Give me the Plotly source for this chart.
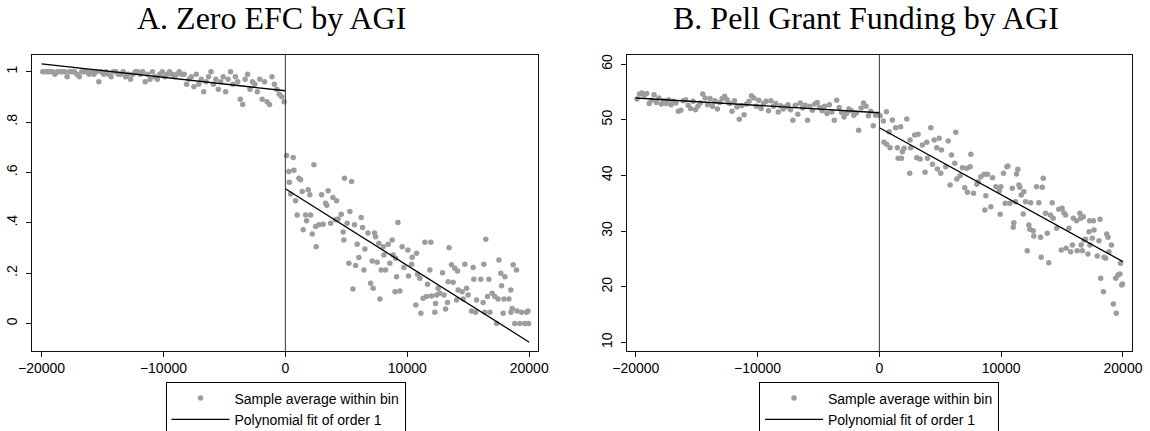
import plotly.graph_objects as go

# ---------------- data ----------------
cutoff = 0

# Panel A: Zero EFC by AGI
a_left_x = [-19900, -19700, -19500, -19300, -19100, -18900, -18700, -18500, -18300, -18100,
            -17900, -17700, -17500, -17300, -17100, -16900, -16700, -16500, -16300, -16100,
            -15900, -15700, -15500, -15300, -15100, -14900, -14700, -14500, -14300, -14100,
            -13900, -13700, -13500, -13300, -13100, -12900, -12700, -12500, -12300, -12100,
            -11900, -11700, -11500, -11300, -11100, -10900, -10700, -10500, -10300, -10100,
            -9900, -9700, -9500, -9300, -9100, -8900, -8700, -8500, -8300, -8100,
            -7900, -7700, -7500, -7300, -7100, -6900, -6700, -6500, -6300, -6100,
            -5900, -5700, -5500, -5300, -5100, -4900, -4700, -4500, -4300, -4100,
            -3900, -3700, -3500, -3300, -3100, -2900, -2700, -2500, -2300, -2100,
            -1900, -1700, -1500, -1300, -1100, -900, -700, -500, -300, -100]
a_left_y = [1.00, 1.00, 1.00, 1.00, 1.00, 0.99, 1.00, 1.00, 1.00, 1.00,
            0.98, 1.00, 1.00, 1.00, 0.99, 0.98, 1.00, 1.00, 1.00, 0.99,
            1.00, 0.99, 1.00, 0.96, 1.00, 0.99, 1.00, 0.99, 0.98, 1.00,
            1.00, 0.99, 0.99, 1.00, 0.98, 0.99, 0.97, 0.99, 1.00, 1.00,
            0.99, 1.00, 0.96, 0.99, 0.97, 1.00, 0.98, 0.97, 0.99, 1.00,
            0.98, 0.99, 1.00, 0.99, 0.98, 0.99, 1.00, 0.99, 0.99, 0.95,
            0.97, 0.98, 0.94, 0.99, 0.95, 0.97, 0.92, 0.96, 0.98, 1.00,
            0.95, 0.97, 0.93, 0.96, 0.98, 0.92, 0.97, 1.00, 0.95, 0.98,
            0.96, 0.89, 0.87, 0.97, 0.99, 0.93, 0.96, 0.95, 0.92, 0.97,
            0.89, 0.96, 0.88, 0.87, 0.98, 0.95, 0.93, 0.91, 0.90, 0.88]

a_right_x = [100, 290, 320, 430, 640, 700, 840, 970, 1110, 1250,
             1380, 1460, 1660, 1740, 1870, 2010, 2070, 2200, 2340, 2480,
             2530, 2750, 2970, 3100, 3300, 3400, 3510, 3710, 3900, 4120,
             4200, 4330, 4580, 4740, 4800, 4850, 5070, 5210, 5290, 5430,
             5540, 5670, 5760, 5890, 6030, 6220, 6330, 6440, 6520, 6770,
             6990, 7120, 7200, 7310, 7400, 7530, 7670, 7750, 7860, 8020,
             8080, 8220, 8430, 8570, 8760, 8840, 9000, 9040, 9120, 9230,
             9390, 9580, 9720, 10050, 10100, 10350, 10400, 10700, 10760, 10840,
             11030, 11110, 11300, 11440, 11580, 11660, 11850, 11930, 11990, 12260,
             12320, 12400, 12530, 12670, 12890, 13020, 13140, 13300, 13350, 13430,
             13630, 13760, 13900, 14040, 14120, 14170, 14500, 14580, 14720, 14860,
             14990, 15270, 15400, 15460, 15600, 15680, 16030, 16220, 16280, 16360,
             16440, 16580, 16690, 16770, 16960, 17180, 17320, 17450, 17510, 17670,
             17730, 17860, 17940, 18000, 18330, 18490, 18500, 18600, 18680, 18820,
             18960, 19000, 19230, 19370, 19640, 19780, 19900, 19950]
a_right_y = [0.667, 0.604, 0.561, 0.514, 0.659, 0.609, 0.487, 0.431, 0.577, 0.571,
             0.524, 0.372, 0.431, 0.408, 0.531, 0.511, 0.431, 0.355, 0.630, 0.385,
             0.305, 0.392, 0.511, 0.394, 0.478, 0.470, 0.527, 0.398, 0.500, 0.412,
             0.487, 0.415, 0.434, 0.363, 0.332, 0.577, 0.398, 0.239, 0.445, 0.564,
             0.137, 0.392, 0.230, 0.315, 0.262, 0.421, 0.381, 0.213, 0.296, 0.359,
             0.160, 0.248, 0.140, 0.359, 0.345, 0.243, 0.319, 0.097, 0.213, 0.305,
             0.272, 0.213, 0.315, 0.239, 0.332, 0.272, 0.126, 0.259, 0.186, 0.401,
             0.129, 0.305, 0.222, 0.292, 0.189, 0.235, 0.263, 0.074, 0.279, 0.196,
             0.180, 0.041, 0.100, 0.323, 0.107, 0.156, 0.213, 0.323, 0.109, 0.045,
             0.080, 0.113, 0.140, 0.120, 0.202, 0.113, 0.058, 0.084, 0.166, 0.301,
             0.233, 0.164, 0.219, 0.093, 0.209, 0.133, 0.126, 0.097, 0.235, 0.140,
             0.113, 0.050, 0.222, 0.176, 0.045, 0.093, 0.176, 0.084, 0.235, 0.045,
             0.335, 0.107, 0.176, 0.045, 0.120, 0.107, 0.000, 0.097, 0.252, 0.200,
             0.150, 0.041, 0.097, 0.186, 0.097, 0.133, 0.045, 0.060, 0.233, 0.000,
             0.213, 0.050, 0.000, 0.045, 0.000, 0.045, 0.050, 0.000]

a_fit_left_x = [-20000, 0]
a_fit_left_y = [1.031, 0.924]
a_fit_right_x = [0, 20000]
a_fit_right_y = [0.535, -0.074]

# Panel B: Pell Grant Funding by AGI
b_left_x = a_left_x
b_left_y = [53.7, 54.6, 54.8, 54.4, 54.7, 52.9, 53.5, 54.5, 53.1, 53.9,
            52.8, 53.4, 52.9, 53.6, 52.7, 53.3, 53.0, 51.5, 51.7, 53.4,
            53.6, 52.6, 52.0, 53.3, 51.8, 52.4, 53.0, 54.6, 53.9, 52.7,
            53.8, 52.4, 53.4, 51.9, 53.1, 53.8, 54.2, 53.6, 52.9, 51.5,
            53.4, 52.3, 50.1, 52.5, 50.9, 52.8, 53.3, 54.3, 53.9, 52.4,
            53.5, 52.0, 52.9, 53.3, 51.6, 53.4, 52.4, 52.9, 51.4, 52.5,
            51.9, 52.3, 52.7, 51.8, 49.9, 52.6, 51.0, 53.0, 52.1, 52.6,
            49.9, 52.4, 51.7, 52.8, 53.1, 52.2, 51.6, 52.4, 51.1, 52.7,
            51.4, 49.9, 53.5, 52.2, 51.3, 50.5, 51.1, 51.9, 51.6, 50.8,
            51.2, 48.1, 52.1, 53.0, 52.4, 50.7, 51.5, 48.9, 50.8, 51.0]

b_right_x = [55, 330, 380, 575, 600, 800, 880, 1070, 1340, 1480,
             1540, 1750, 1810, 1890, 2030, 2250, 2490, 2520, 2570, 2900,
             3070, 3180, 3350, 3530, 3750, 3890, 3950, 4220, 4360, 4500,
             4710, 4760, 4910, 5040, 5100, 5450, 5650, 5810, 5920, 6190,
             6270, 6360, 6630, 6820, 7010, 7180, 7230, 7450, 7510, 7730,
             8000, 8110, 8330, 8600, 8660, 8740, 8880, 9150, 9290, 9560,
             9840, 9920, 9970, 10190, 10330, 10470, 10550, 10710, 10910, 10990,
             11040, 11180, 11260, 11370, 11450, 11530, 11640, 11810, 11860, 12000,
             12140, 12270, 12350, 12410, 12630, 12680, 12900, 13090, 13230, 13280,
             13370, 13450, 13640, 13780, 13910, 14050, 14190, 14270, 14550, 14730,
             14930, 15000, 15150, 15290, 15330, 15560, 15700, 15850, 15920, 16190,
             16240, 16460, 16520, 16560, 16660, 16740, 16800, 16930, 17120, 17210,
             17260, 17290, 17480, 17570, 17620, 17890, 18030, 18110, 18170, 18390,
             18440, 18580, 18660, 18770, 18850, 19050, 19210, 19400, 19450, 19590,
             19750, 19800, 19900, 19950]
b_right_y = [50.72, 49.76, 45.94, 51.43, 45.58, 47.84, 44.97, 49.94, 48.56, 44.97,
             43.06, 48.74, 43.06, 44.25, 44.86, 50.12, 40.37, 46.35, 44.97, 47.25,
             43.17, 47.37, 42.94, 45.45, 40.55, 45.94, 43.06, 48.56, 41.99, 46.35,
             44.97, 41.14, 46.66, 40.37, 44.55, 41.56, 46.17, 38.27, 43.66, 42.17,
             47.73, 39.35, 39.94, 41.38, 37.78, 41.27, 36.96, 41.56, 43.78, 36.78,
             38.39, 38.86, 39.76, 40.19, 33.78, 36.35, 40.19, 34.38, 39.58, 37.96,
             37.19, 33.00, 37.96, 40.37, 34.98, 41.56, 41.68, 34.98, 37.68, 30.67,
             31.50, 35.27, 40.24, 41.08, 38.27, 37.86, 36.47, 33.06, 37.07, 35.27,
             26.47, 31.09, 30.31, 35.09, 30.06, 29.11, 37.96, 35.09, 28.88, 25.28,
             37.86, 39.47, 33.18, 29.60, 24.32, 32.88, 35.09, 32.29, 30.49, 33.90,
             26.59, 34.08, 33.30, 32.88, 26.90, 30.49, 26.29, 27.50, 32.29, 31.86,
             26.47, 33.18, 32.29, 27.50, 26.47, 32.59, 28.40, 28.52, 25.88, 29.88,
             31.86, 27.50, 28.70, 31.86, 30.19, 25.52, 28.27, 32.10, 21.51, 19.10,
             25.28, 25.10, 29.47, 28.88, 26.29, 27.50, 16.90, 21.51, 15.23, 22.10,
             22.28, 24.20, 20.31, 20.49]

b_fit_left_x = [-20000, 0]
b_fit_left_y = [53.9, 51.25]
b_fit_right_x = [0, 20000]
b_fit_right_y = [48.56, 24.5]

titles = ["A. Zero EFC by AGI", "B. Pell Grant Funding by AGI"]
legend_names = ["Sample average within bin", "Polynomial fit of order 1"]
x_tickvals = [-20000, -10000, 0, 10000, 20000]
x_ticktext = ["\u221220000", "\u221210000", "0", "10000", "20000"]
a_tickvals = [0, 0.2, 0.4, 0.6, 0.8, 1]
a_ticktext = ["0", ".2", ".4", ".6", ".8", "1"]
b_tickvals = [10, 20, 30, 40, 50, 60]
b_ticktext = ["10", "20", "30", "40", "50", "60"]

# ---------------- figure ----------------
W, H = 1150, 431
DOT = "#9d9d9d"
SANS = "Liberation Sans, Arial, Helvetica, sans-serif"
SERIF = "Liberation Serif, Times New Roman, serif"

fig = go.Figure()

def add_panel(xa, ya, leg, lx, ly, rx, ry, flx, fly, frx, fry):
    fig.add_trace(go.Scatter(x=lx + rx, y=ly + ry, mode="markers", xaxis=xa, yaxis=ya,
                             marker=dict(color=DOT, size=5.5, line=dict(width=0)),
                             name=legend_names[0], legend=leg, showlegend=True))
    fig.add_trace(go.Scatter(x=flx, y=fly, mode="lines", xaxis=xa, yaxis=ya,
                             line=dict(color="black", width=1.3),
                             name=legend_names[1], legend=leg, showlegend=True))
    fig.add_trace(go.Scatter(x=frx, y=fry, mode="lines", xaxis=xa, yaxis=ya,
                             line=dict(color="black", width=1.3),
                             name=legend_names[1], legend=leg, showlegend=False))

add_panel("x", "y", "legend", a_left_x, a_left_y, a_right_x, a_right_y,
          a_fit_left_x, a_fit_left_y, a_fit_right_x, a_fit_right_y)
add_panel("x2", "y2", "legend2", b_left_x, b_left_y, b_right_x, b_right_y,
          b_fit_left_x, b_fit_left_y, b_fit_right_x, b_fit_right_y)

ydom = [80 / H, 376 / H]
xdomA = [32 / W, 538 / W]
xdomB = [626.5 / W, 1131.7 / W]

axis_common = dict(showline=True, linecolor="#111", linewidth=1, mirror=True,
                   ticks="outside", ticklen=5, tickwidth=1, tickcolor="#111",
                   showgrid=False, zeroline=False, automargin=False,
                   tickfont=dict(family=SANS, size=14, color="black"))

leg_common = dict(bordercolor="black", borderwidth=1, bgcolor="white",
                  font=dict(family=SANS, size=14, color="black"),
                  itemwidth=58, tracegroupgap=0, yanchor="top", xanchor="center",
                  y=1 - 381.5 / H)

fig.update_layout(
    width=W, height=H,
    margin=dict(l=0, r=0, t=0, b=0, pad=0, autoexpand=False),
    paper_bgcolor="white", plot_bgcolor="white",
    xaxis=dict(domain=xdomA, range=[-20780, 20720], anchor="y", ticklabelstandoff=-1,
               tickvals=x_tickvals, ticktext=x_ticktext, **axis_common),
    yaxis=dict(domain=ydom, range=[-0.109, 1.066], anchor="x", ticklabelstandoff=3,
               tickvals=a_tickvals, ticktext=a_ticktext, tickangle=-90, **axis_common),
    xaxis2=dict(domain=xdomB, range=[-20760, 20715], anchor="y2", ticklabelstandoff=-1,
                tickvals=x_tickvals, ticktext=x_ticktext, **axis_common),
    yaxis2=dict(domain=ydom, range=[8.46, 61.62], anchor="x2", ticklabelstandoff=3,
                tickvals=b_tickvals, ticktext=b_ticktext, tickangle=-90, **axis_common),
    legend=dict(x=285.5 / W, **leg_common),
    legend2=dict(x=879 / W, **leg_common),
    showlegend=True,
)

# cutoff lines
for xr, yr in (("x", "y domain"), ("x2", "y2 domain")):
    fig.add_shape(type="line", xref=xr, yref=yr, x0=cutoff, x1=cutoff, y0=0, y1=1,
                  line=dict(color="#333", width=1), layer="above")

# titles
for txt, cx in zip(titles, (271.5 / W, 865.5 / W)):
    fig.add_annotation(text=txt, xref="paper", yref="paper", x=cx, y=1 - 18 / H,
                       xanchor="center", yanchor="middle", showarrow=False,
                       font=dict(family=SERIF, size=32, color="black"))

fig.write_html("out.html", config={"displayModeBar": False},
               post_script="document.body.style.margin='0px';document.body.style.overflow='hidden';")
